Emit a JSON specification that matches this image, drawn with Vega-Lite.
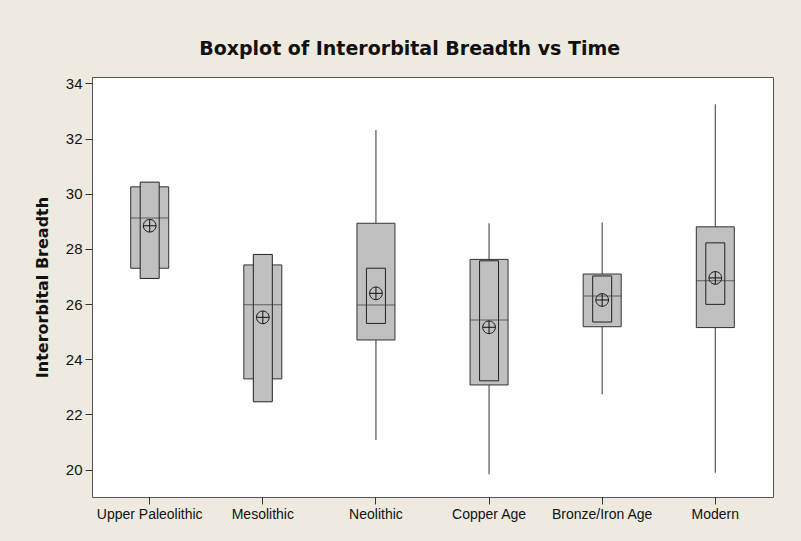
{
  "$schema": "https://vega.github.io/schema/vega-lite/v6.json",
  "width": 681,
  "height": 420,
  "autosize": {"type": "none"},
  "padding": {"left": 92, "top": 77, "right": 28, "bottom": 44},
  "background": "#EEEAE0",
  "config": {
    "view": {"fill": "white", "stroke": "#555555", "strokeWidth": 1},
    "font": "Liberation Sans"
  },
  "title": {
    "text": "Boxplot of Interorbital Breadth vs Time",
    "font": "DejaVu Sans",
    "fontSize": 19,
    "fontWeight": "bold",
    "color": "#111111",
    "anchor": "middle",
    "frame": "bounds",
    "baseline": "alphabetic",
    "offset": 2,
    "dx": 6
  },
  "data": {
    "values": [
      {"time": "Upper Paleolithic", "min": 27.30, "q1": 27.30, "median": 29.12, "q3": 30.25, "max": 30.25, "cilo": 26.93, "cihi": 30.42, "mean": 28.84},
      {"time": "Mesolithic", "min": 23.29, "q1": 23.29, "median": 25.98, "q3": 27.42, "max": 27.42, "cilo": 22.46, "cihi": 27.80, "mean": 25.52},
      {"time": "Neolithic", "min": 21.08, "q1": 24.70, "median": 25.97, "q3": 28.93, "max": 32.31, "cilo": 25.30, "cihi": 27.30, "mean": 26.39},
      {"time": "Copper Age", "min": 19.83, "q1": 23.07, "median": 25.42, "q3": 27.62, "max": 28.93, "cilo": 23.22, "cihi": 27.57, "mean": 25.16},
      {"time": "Bronze/Iron Age", "min": 22.73, "q1": 25.18, "median": 26.29, "q3": 27.09, "max": 28.96, "cilo": 25.35, "cihi": 27.02, "mean": 26.15},
      {"time": "Modern", "min": 19.89, "q1": 25.15, "median": 26.85, "q3": 28.80, "max": 33.24, "cilo": 25.99, "cihi": 28.22, "mean": 26.95}
    ]
  },
  "encoding": {
    "x": {
      "field": "time",
      "type": "nominal",
      "sort": null,
      "scale": {"paddingInner": 0, "paddingOuter": 0.01},
      "axis": {
        "title": null,
        "labelAngle": 0,
        "labelFont": "Liberation Sans",
        "labelFontSize": 14,
        "labelColor": "#111111",
        "labelPadding": 3,
        "tickSize": 7,
        "tickColor": "#333333",
        "domain": false
      }
    }
  },
  "layer": [
    {
      "mark": {"type": "rule", "color": "#555555", "strokeWidth": 1.2},
      "encoding": {
        "y": {
          "field": "min",
          "type": "quantitative",
          "scale": {"domain": [19.01, 34.23], "nice": false, "zero": false},
          "axis": {
            "title": "Interorbital Breadth",
            "titleFont": "DejaVu Sans",
            "titleFontSize": 16,
            "titleFontWeight": "bold",
            "titleColor": "#111111",
            "titlePadding": 15,
            "values": [20, 22, 24, 26, 28, 30, 32, 34],
            "labelFont": "Liberation Sans",
            "labelFontSize": 15,
            "labelColor": "#111111",
            "labelPadding": 3,
            "tickSize": 7,
            "tickColor": "#333333",
            "grid": false,
            "domain": false
          }
        },
        "y2": {"field": "max"}
      }
    },
    {
      "mark": {"type": "bar", "size": 38, "fill": "#C0C0C0", "stroke": "#333333", "strokeWidth": 1},
      "encoding": {
        "y": {"field": "q1", "type": "quantitative"},
        "y2": {"field": "q3"}
      }
    },
    {
      "mark": {"type": "bar", "size": 19, "fill": "#C0C0C0", "stroke": "#222222", "strokeWidth": 1},
      "encoding": {
        "y": {"field": "cilo", "type": "quantitative"},
        "y2": {"field": "cihi"}
      }
    },
    {
      "mark": {"type": "tick", "size": 38, "thickness": 1, "color": "#333333"},
      "encoding": {
        "y": {"field": "median", "type": "quantitative"}
      }
    },
    {
      "mark": {
        "type": "point",
        "shape": "M-1,0A1,1 0 1,1 1,0A1,1 0 1,1 -1,0ZM-1,0H1M0,-1V1",
        "size": 160,
        "filled": false,
        "stroke": "#111111",
        "strokeWidth": 1,
        "opacity": 1
      },
      "encoding": {
        "y": {"field": "mean", "type": "quantitative"}
      }
    }
  ]
}
